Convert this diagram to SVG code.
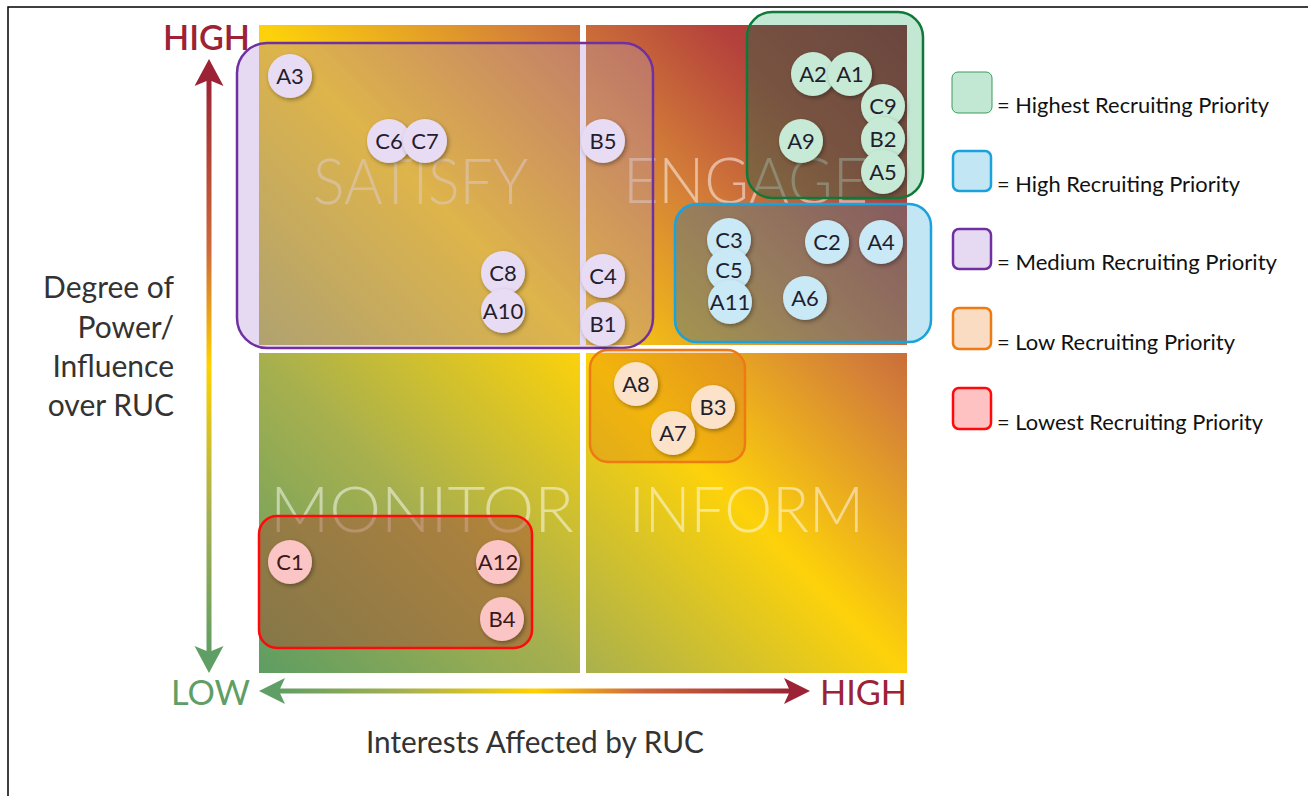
<svg xmlns="http://www.w3.org/2000/svg" width="1308" height="796" viewBox="0 0 1308 796">
<style>
.nd text{font-family:Lato,"Open Sans","Liberation Sans",sans-serif;font-size:22px;fill:#231d2e;text-anchor:middle}
.nd circle{filter:url(#sh)}
.p circle{fill:#e8dcf4}.g circle{fill:#c6ead5}.b circle{fill:#c8e9f5}.o circle{fill:#fbe2c8}.r circle{fill:#fcc5c5}
.r text{fill:#3a1818}
.ql{font-family:Lato,"Open Sans","Liberation Sans",sans-serif;font-weight:300;font-size:64px;fill:#fff;fill-opacity:0.5}
.ax{font-family:Lato,"Open Sans","Liberation Sans",sans-serif;font-size:30px;fill:#333}
.hl{font-family:Lato,"Open Sans","Liberation Sans",sans-serif;font-size:34px}
.hb{font-weight:600}
.lg{font-family:Lato,"Open Sans","Liberation Sans",sans-serif;font-size:21px;fill:#111}
.bx{fill:none;stroke-width:2.5}
</style>
<defs>
<linearGradient id="qg" gradientUnits="userSpaceOnUse" x1="259" y1="673" x2="907" y2="25">
<stop offset="0" stop-color="#5e9d62"/>
<stop offset="0.25" stop-color="#a8b04e"/>
<stop offset="0.5" stop-color="#fdd20a"/>
<stop offset="0.7" stop-color="#d48038"/>
<stop offset="0.85" stop-color="#b5423c"/>
<stop offset="1" stop-color="#9a2838"/>
</linearGradient>
<linearGradient id="vg" x1="0" y1="0" x2="0" y2="1">
<stop offset="0" stop-color="#9b2335"/>
<stop offset="0.3" stop-color="#cf6a3a"/>
<stop offset="0.5" stop-color="#ffd200"/>
<stop offset="0.75" stop-color="#a8b04e"/>
<stop offset="1" stop-color="#5f9e64"/>
</linearGradient>
<linearGradient id="hg" x1="0" y1="0" x2="1" y2="0">
<stop offset="0" stop-color="#5f9e64"/>
<stop offset="0.25" stop-color="#a8b04e"/>
<stop offset="0.5" stop-color="#ffd200"/>
<stop offset="0.7" stop-color="#cf6a3a"/>
<stop offset="1" stop-color="#9b2335"/>
</linearGradient>
<clipPath id="qc">
<rect x="259" y="25" width="321" height="320"/>
<rect x="586" y="25" width="321" height="320"/>
<rect x="259" y="353" width="321" height="320"/>
<rect x="586" y="353" width="321" height="320"/>
</clipPath>
<filter id="sh" x="-30%" y="-30%" width="170%" height="170%">
<feDropShadow dx="1.5" dy="2" stdDeviation="2.2" flood-color="#000" flood-opacity="0.35"/>
</filter>
</defs>
<rect width="1308" height="796" fill="#fff"/>
<path d="M8,796 V7 H1308" fill="none" stroke="#000" stroke-width="1.5"/>

<g id="box-fills">
<rect x="237" y="43" width="416" height="305" rx="30" fill="#e6daf3"/>
<rect x="747" y="12" width="176" height="186" rx="25" fill="#c2e7d2"/>
<rect x="675" y="204" width="256" height="138" rx="22" fill="#c2e6f4"/>
<rect x="590" y="350" width="155" height="112" rx="18" fill="#f9dcc2"/>
<rect x="259" y="516" width="273" height="132" rx="18" fill="#ffc2c2"/>
</g>

<g id="quadrants">
<rect x="259" y="25" width="321" height="320" fill="url(#qg)"/>
<rect x="586" y="25" width="321" height="320" fill="url(#qg)"/>
<rect x="259" y="353" width="321" height="320" fill="url(#qg)"/>
<rect x="586" y="353" width="321" height="320" fill="url(#qg)"/>
<text class="ql" x="313" y="204" textLength="215" lengthAdjust="spacingAndGlyphs">SATISFY</text>
<text class="ql" x="623" y="203" textLength="245" lengthAdjust="spacingAndGlyphs">ENGAGE</text>
<text class="ql" x="270" y="532" textLength="304" lengthAdjust="spacingAndGlyphs">MONITOR</text>
<text class="ql" x="629" y="532" textLength="235" lengthAdjust="spacingAndGlyphs">INFORM</text>
</g>

<g id="box-overlays" clip-path="url(#qc)">
<rect x="237" y="43" width="416" height="305" rx="30" fill="#b8909c" fill-opacity="0.45"/>
<rect x="747" y="12" width="176" height="186" rx="25" fill="#3c6446" fill-opacity="0.5"/>
<rect x="675" y="204" width="256" height="138" rx="22" fill="#5a7882" fill-opacity="0.5"/>
<rect x="590" y="350" width="155" height="112" rx="18" fill="#d97014" fill-opacity="0.3"/>
<rect x="259" y="516" width="273" height="132" rx="18" fill="#a55032" fill-opacity="0.5"/>
</g>

<g id="group-medium"><rect class="bx" x="237" y="43" width="416" height="305" rx="30" stroke="#7030a0"/></g>
<g id="group-highest"><rect class="bx" x="747" y="12" width="176" height="186" rx="25" stroke="#0f7a38"/></g>
<g id="group-high"><rect class="bx" x="675" y="204" width="256" height="138" rx="22" stroke="#1aa2dc"/></g>
<g id="group-low"><rect class="bx" x="590" y="350" width="155" height="112" rx="18" stroke="#ee7a14"/></g>
<g id="group-lowest"><rect class="bx" x="259" y="516" width="273" height="132" rx="18" stroke="#ff0a0a"/></g>

<g id="node-A3" class="nd p"><circle cx="290" cy="76" r="22"/><text x="290" y="84">A3</text></g>
<g id="node-C6" class="nd p"><circle cx="389" cy="141" r="22"/><text x="389" y="149">C6</text></g>
<g id="node-C7" class="nd p"><circle cx="425" cy="141" r="22"/><text x="425" y="149">C7</text></g>
<g id="node-B5" class="nd p"><circle cx="603" cy="141" r="22"/><text x="603" y="149">B5</text></g>
<g id="node-C8" class="nd p"><circle cx="503" cy="273" r="22"/><text x="503" y="281">C8</text></g>
<g id="node-A10" class="nd p"><circle cx="503" cy="311" r="22"/><text x="503" y="319">A10</text></g>
<g id="node-C4" class="nd p"><circle cx="603" cy="276" r="22"/><text x="603" y="284">C4</text></g>
<g id="node-B1" class="nd p"><circle cx="603" cy="324" r="22"/><text x="603" y="332">B1</text></g>

<g id="node-A2" class="nd g"><circle cx="813" cy="74" r="22"/><text x="813" y="82">A2</text></g>
<g id="node-A1" class="nd g"><circle cx="850" cy="74" r="22"/><text x="850" y="82">A1</text></g>
<g id="node-A9" class="nd g"><circle cx="801" cy="141" r="22"/><text x="801" y="149">A9</text></g>
<g id="node-C9" class="nd g"><circle cx="883" cy="106" r="22"/><text x="883" y="114">C9</text></g>
<g id="node-B2" class="nd g"><circle cx="883" cy="139" r="22"/><text x="883" y="147">B2</text></g>
<g id="node-A5" class="nd g"><circle cx="883" cy="172" r="22"/><text x="883" y="180">A5</text></g>

<g id="node-C3" class="nd b"><circle cx="729" cy="240" r="22"/><text x="729" y="248">C3</text></g>
<g id="node-C5" class="nd b"><circle cx="729" cy="270" r="22"/><text x="729" y="278">C5</text></g>
<g id="node-A11" class="nd b"><circle cx="730" cy="302" r="22"/><text x="730" y="310">A11</text></g>
<g id="node-C2" class="nd b"><circle cx="827" cy="242" r="22"/><text x="827" y="250">C2</text></g>
<g id="node-A4" class="nd b"><circle cx="881" cy="242" r="22"/><text x="881" y="250">A4</text></g>
<g id="node-A6" class="nd b"><circle cx="805" cy="298" r="22"/><text x="805" y="306">A6</text></g>

<g id="node-A8" class="nd o"><circle cx="636" cy="384" r="22"/><text x="636" y="392">A8</text></g>
<g id="node-B3" class="nd o"><circle cx="713" cy="407" r="22"/><text x="713" y="415">B3</text></g>
<g id="node-A7" class="nd o"><circle cx="673" cy="433" r="22"/><text x="673" y="441">A7</text></g>

<g id="node-C1" class="nd r"><circle cx="290" cy="562" r="22"/><text x="290" y="570">C1</text></g>
<g id="node-A12" class="nd r"><circle cx="498" cy="562" r="22"/><text x="498" y="570">A12</text></g>
<g id="node-B4" class="nd r"><circle cx="502" cy="619" r="22"/><text x="502" y="627">B4</text></g>

<g id="axes">
<rect x="206.5" y="78" width="5" height="576" fill="url(#vg)"/>
<path d="M209,59 L223.5,86 L209,80 L194.5,86 Z" fill="#9b2335"/>
<path d="M209,673 L223.5,646 L209,652 L194.5,646 Z" fill="#5f9e64"/>
<rect x="276" y="688.5" width="518" height="5" fill="url(#hg)"/>
<path d="M259,691 L285,678 L279,691 L285,704 Z" fill="#5f9e64"/>
<path d="M810,691 L784,678 L790,691 L784,704 Z" fill="#9b2335"/>
<text class="hl hb" x="163" y="50" textLength="87" lengthAdjust="spacingAndGlyphs" fill="#9b2335">HIGH</text>
<text class="hl" x="171" y="705" textLength="79" lengthAdjust="spacingAndGlyphs" fill="#5f9e64">LOW</text>
<text class="hl" x="820" y="705" textLength="87" lengthAdjust="spacingAndGlyphs" fill="#9b2335">HIGH</text>
<text class="ax" text-anchor="end"><tspan x="174" y="298">Degree of</tspan><tspan x="174" y="338">Power/</tspan><tspan x="174" y="377">Influence</tspan><tspan x="174" y="416">over RUC</tspan></text>
<text class="ax" x="366" y="753" textLength="338" lengthAdjust="spacingAndGlyphs">Interests Affected by RUC</text>
</g>

<g id="legend">
<rect x="952" y="72" width="40" height="41" rx="6" fill="#c2e7d2" stroke="#3d9a5c" stroke-width="1"/>
<text class="lg" x="997" y="113" textLength="272" lengthAdjust="spacingAndGlyphs">= Highest Recruiting Priority</text>
<rect x="953" y="151" width="38" height="40" rx="6" fill="#c2e6f4" stroke="#1aa2dc" stroke-width="2.5"/>
<text class="lg" x="997" y="192" textLength="243" lengthAdjust="spacingAndGlyphs">= High Recruiting Priority</text>
<rect x="953" y="229" width="38" height="40" rx="6" fill="#e6daf3" stroke="#7030a0" stroke-width="2.5"/>
<text class="lg" x="997" y="270" textLength="280" lengthAdjust="spacingAndGlyphs">= Medium Recruiting Priority</text>
<rect x="953" y="308" width="38" height="41" rx="6" fill="#f9dcc2" stroke="#ee7a14" stroke-width="2.5"/>
<text class="lg" x="997" y="350" textLength="238" lengthAdjust="spacingAndGlyphs">= Low Recruiting Priority</text>
<rect x="953" y="388" width="38" height="41" rx="6" fill="#ffc2c2" stroke="#ff0a0a" stroke-width="2.5"/>
<text class="lg" x="997" y="430" textLength="266" lengthAdjust="spacingAndGlyphs">= Lowest Recruiting Priority</text>
</g>
</svg>
